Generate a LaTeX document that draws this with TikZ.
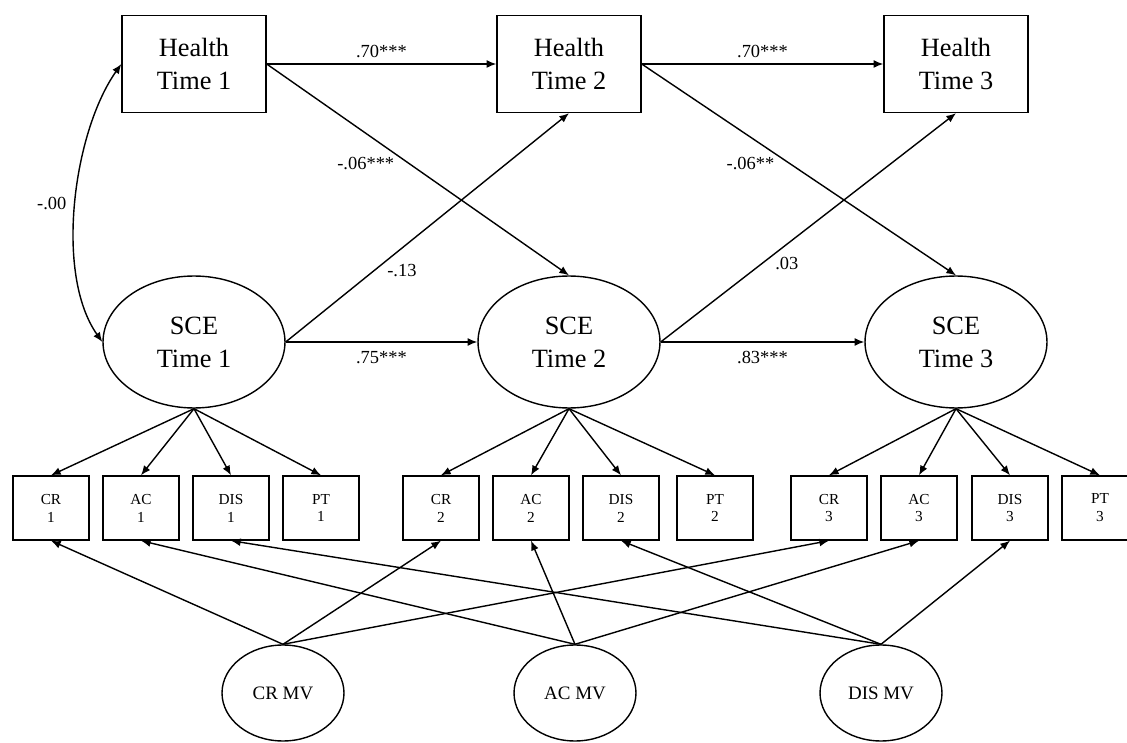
\documentclass[tikz,border=0pt]{standalone}
\usepackage{fontspec}
\setmainfont{Liberation Serif}
\usetikzlibrary{shapes.geometric,arrows.meta}

\begin{document}
\begin{tikzpicture}[x=0.02cm, y=-0.02cm, line width=0.8pt,
    >={Latex[length=5.5pt,width=4.5pt]},
    healthbox/.style={draw, rectangle, minimum width=2.88cm, minimum height=1.94cm, inner sep=0pt, align=center, font=\fontsize{15}{18.7}\selectfont},
    scenode/.style={draw, ellipse, minimum width=3.64cm, minimum height=2.64cm, inner sep=0pt, align=center, font=\fontsize{15}{18.7}\selectfont},
    indbox/.style={draw, rectangle, minimum width=1.52cm, minimum height=1.28cm, inner sep=0pt, align=center, font=\fontsize{8.7}{10.2}\selectfont},
    mvnode/.style={draw, ellipse, minimum width=2.44cm, minimum height=1.92cm, inner sep=0pt, font=\fontsize{10.8}{13}\selectfont},
    coef/.style={inner sep=1pt, font=\fontsize{10.5}{12}\selectfont}]
    \useasboundingbox (0,0) rectangle (1127,743);
    \clip (0,0) rectangle (1127,743);

    \node[healthbox] (h1) at (194,64) {Health\\Time 1};
    \node[healthbox] (h2) at (569,64) {Health\\Time 2};
    \node[healthbox] (h3) at (956,64) {Health\\Time 3};
    \node[scenode] (s1) at (194,342) {SCE\\Time 1};
    \node[scenode] (s2) at (569,342) {SCE\\Time 2};
    \node[scenode] (s3) at (956,342) {SCE\\Time 3};

    \node[indbox] (cr1) at (51,508) {CR\\1};
    \node[indbox] (ac1) at (141,508) {AC\\1};
    \node[indbox] (dis1) at (231,508) {DIS\\1};
    \node[indbox] (pt1) at (321,508) {PT\\1};
    \node[indbox] (cr2) at (441,508) {CR\\2};
    \node[indbox] (ac2) at (531,508) {AC\\2};
    \node[indbox] (dis2) at (621,508) {DIS\\2};
    \node[indbox] (pt2) at (715,508) {PT\\2};
    \node[indbox] (cr3) at (829,508) {CR\\3};
    \node[indbox] (ac3) at (919,508) {AC\\3};
    \node[indbox] (dis3) at (1010,508) {DIS\\3};
    \node[indbox] (pt3) at (1100,508) {PT\\3};

    \node[mvnode] (crmv) at (283,693) {CR MV};
    \node[mvnode] (acmv) at (575,693) {AC MV};
    \node[mvnode] (dismv) at (881,693) {DIS MV};

    \draw[->] (h1.east) -- node[coef, above=2pt] {.70***} (h2.west);
    \draw[->] (h2.east) -- node[coef, above=2pt] {.70***} (h3.west);
    \draw[->] (s1.east) -- node[coef, below=4pt] {.75***} (s2.west);
    \draw[->] (s2.east) -- node[coef, below=4pt] {.83***} (s3.west);
    \draw[->] (h1.east) -- node[coef, pos=0.43, anchor=north east] {-.06***} (s2.north);
    \draw[->] (s1.east) -- node[coef, pos=0.35, anchor=north west] {-.13} (h2.south);
    \draw[->] (h2.east) -- node[coef, pos=0.43, anchor=north east] {-.06**} (s3.north);
    \draw[->] (s2.east) -- node[coef, pos=0.38, anchor=north west] {.03} (h3.south);
    \draw[<->] (h1.west) .. controls +(-48,68) and +(-48,-68) .. node[coef, left=4pt] {-.00} (s1.west);

    \draw[->] (s1.south) -- (cr1.north);
    \draw[->] (s1.south) -- (ac1.north);
    \draw[->] (s1.south) -- (dis1.north);
    \draw[->] (s1.south) -- (pt1.north);
    \draw[->] (s2.south) -- (cr2.north);
    \draw[->] (s2.south) -- (ac2.north);
    \draw[->] (s2.south) -- (dis2.north);
    \draw[->] (s2.south) -- (pt2.north);
    \draw[->] (s3.south) -- (cr3.north);
    \draw[->] (s3.south) -- (ac3.north);
    \draw[->] (s3.south) -- (dis3.north);
    \draw[->] (s3.south) -- (pt3.north);

    \draw[->] (crmv.north) -- (cr1.south);
    \draw[->] (crmv.north) -- (cr2.south);
    \draw[->] (crmv.north) -- (cr3.south);
    \draw[->] (acmv.north) -- (ac1.south);
    \draw[->] (acmv.north) -- (ac2.south);
    \draw[->] (acmv.north) -- (ac3.south);
    \draw[->] (dismv.north) -- (dis1.south);
    \draw[->] (dismv.north) -- (dis2.south);
    \draw[->] (dismv.north) -- (dis3.south);
\end{tikzpicture}
\end{document}
